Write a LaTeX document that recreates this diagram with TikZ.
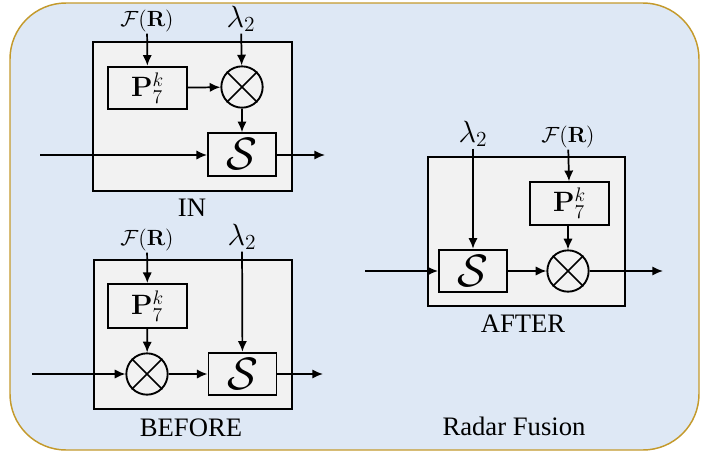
\RequirePackage{fix-cm}
\documentclass[tikz,border=0pt]{standalone}
\usepackage[no-math]{fontspec}
\setmainfont{Liberation Serif}
\usetikzlibrary{arrows.meta}
\definecolor{bgblue}{HTML}{DEE8F5}
\definecolor{gold}{HTML}{C49A2C}
\definecolor{boxgray}{HTML}{F2F2F2}
\tikzset{
  frame/.style={draw, fill=boxgray, line width=1.4pt},
  pbox/.style={draw, fill=boxgray, line width=1.4pt, minimum width=59pt, minimum height=32pt, inner sep=0pt, font=\fontsize{21}{23}\selectfont},
  sbox/.style={draw, fill=boxgray, line width=1.4pt, minimum width=51pt, minimum height=32pt, inner sep=0pt, font=\fontsize{34}{36}\selectfont},
  mult/.style={draw, circle, fill=boxgray, line width=1.4pt, minimum size=31pt, inner sep=0pt},
  lam/.style={font=\fontsize{23}{25}\selectfont, inner sep=1pt},
  frl/.style={font=\fontsize{16.5}{18}\selectfont, inner sep=1pt},
  captxt/.style={font=\rmfamily\fontsize{20}{22}\selectfont},
  arr/.style={-{Latex[length=8pt,width=7pt]}, line width=1.3pt},
}
\newcommand{\crossit}[1]{\draw[line width=1.3pt] (#1.north west) -- (#1.south east) (#1.north east) -- (#1.south west);}
\begin{document}
\begin{tikzpicture}[x=0.75pt,y=-0.75pt]
\useasboundingbox (0,0) rectangle (719,458);
\draw[fill=bgblue, draw=gold, line width=1.1pt, rounded corners=42pt] (10,3) rectangle (699,450);

% ---------------- IN ----------------
\draw[frame] (93,42) rectangle (292,191);
\node[pbox] (pA) at (147.5,88) {$\mathbf{P}_7^k$};
\node[mult] (mA) at (242,87) {};
\crossit{mA}
\node[sbox] (sA) at (242,154.5) {$\mathcal{S}$};
\node[frl] (fA) at (147,21) {$\mathcal{F}(\mathbf{R})$};
\node[lam] (lA) at (241,19) {$\lambda_2$};
\coordinate (inA) at (40,155);
\coordinate (outA) at (325,155);
\draw[arr] (fA) -- (pA);
\draw[arr] (lA) -- (mA);
\draw[arr] (pA) -- (mA);
\draw[arr] (mA) -- (sA);
\draw[arr] (inA) -- (inA -| sA.west);
\draw[arr] (sA.east |- outA) -- (outA);
\node[captxt] (capA) at (192,208) {IN};

% ---------------- BEFORE ----------------
\draw[frame] (94,260) rectangle (292,409);
\node[pbox, minimum height=33pt] (pB) at (147.5,306) {$\mathbf{P}_7^k$};
\node[mult] (mB) at (147,374) {};
\crossit{mB}
\node[sbox] (sB) at (242.5,374) {$\mathcal{S}$};
\node[frl] (fB) at (147,240) {$\mathcal{F}(\mathbf{R})$};
\node[lam] (lB) at (242,237) {$\lambda_2$};
\coordinate (inB) at (32,374);
\coordinate (outB) at (323,374);
\draw[arr] (fB) -- (pB);
\draw[arr] (pB) -- (mB);
\draw[arr] (lB) -- (sB);
\draw[arr] (inB) -- (mB);
\draw[arr] (mB) -- (sB);
\draw[arr] (sB) -- (outB);
\node[captxt] (capB) at (191,428) {BEFORE};

% ---------------- AFTER ----------------
\draw[frame] (428,157) rectangle (625,306);
\node[pbox] (pC) at (569.5,203.5) {$\mathbf{P}_7^k$};
\node[mult] (mC) at (568,271) {};
\crossit{mC}
\node[sbox] (sC) at (473,271) {$\mathcal{S}$};
\node[lam] (lC) at (473,134) {$\lambda_2$};
\node[frl] (fC) at (568,137) {$\mathcal{F}(\mathbf{R})$};
\coordinate (inC) at (365,271);
\coordinate (outC) at (663,271);
\draw[arr] (lC) -- (sC);
\draw[arr] (fC) -- (pC);
\draw[arr] (pC.south -| mC) -- (mC);
\draw[arr] (inC) -- (sC);
\draw[arr] (sC) -- (mC);
\draw[arr] (mC) -- (outC);
\node[captxt] (capC) at (523,324) {AFTER};

\node[captxt] (title) at (514,426) {Radar Fusion};
\end{tikzpicture}
\end{document}
